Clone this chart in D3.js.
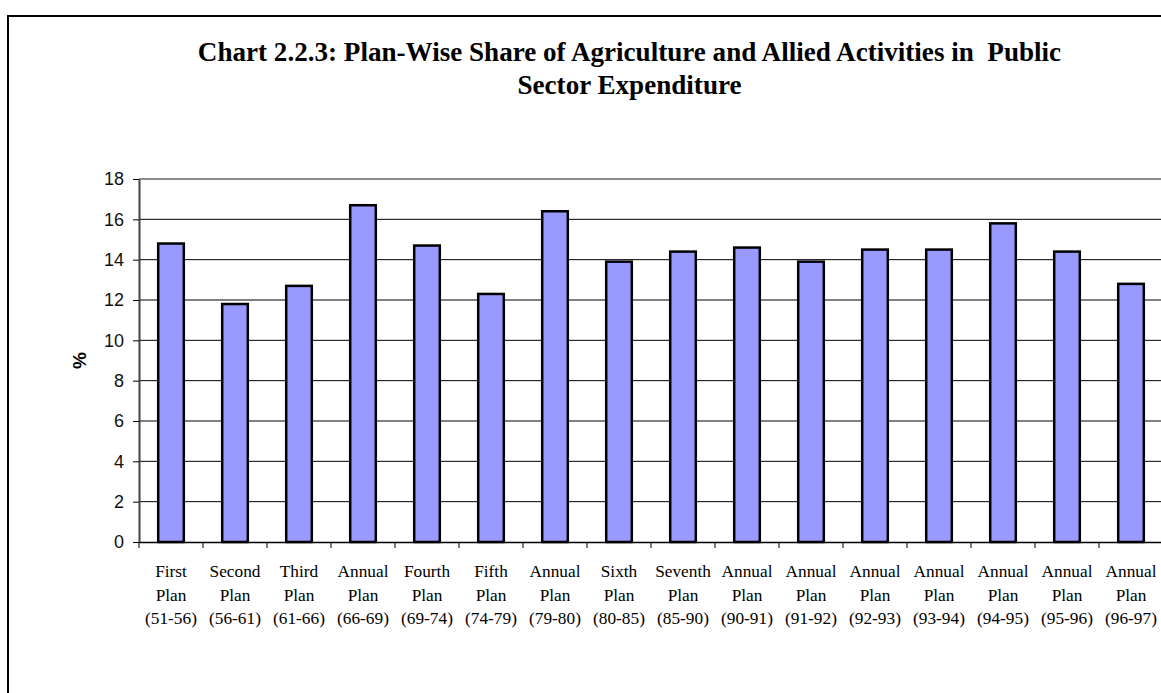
<!DOCTYPE html>
<html>
<head>
<meta charset="utf-8">
<script src="https://cdn.jsdelivr.net/npm/d3@7/dist/d3.min.js"></script>
<style>
  html, body { margin: 0; padding: 0; background: #fff; }
  svg { display: block; }
</style>
</head>
<body>
<svg id="chart" width="1161" height="693"></svg>
<script>
// Plan periods (three label lines each) and the agriculture share of public sector outlay, %
const planNames = ["First", "Second", "Third", "Annual", "Fourth", "Fifth", "Annual", "Sixth",
                   "Seventh", "Annual", "Annual", "Annual", "Annual", "Annual", "Annual", "Annual"];
const planWord = "Plan";
const planYears = ["(51-56)", "(56-61)", "(61-66)", "(66-69)", "(69-74)", "(74-79)", "(79-80)", "(80-85)",
                   "(85-90)", "(90-91)", "(91-92)", "(92-93)", "(93-94)", "(94-95)", "(95-96)", "(96-97)"];
const shareValues = [14.8, 11.8, 12.7, 16.7, 14.7, 12.3, 16.4, 13.9,
                     14.4, 14.6, 13.9, 14.5, 14.5, 15.8, 14.4, 12.8];
const yTicks = [0, 2, 4, 6, 8, 10, 12, 14, 16, 18];
const titleLines = ["Chart 2.2.3: Plan-Wise Share of Agriculture and Allied Activities in\u00A0 Public",
                    "Sector Expenditure"];
const yLabel = "%";

const categories = planYears.map((d, i) => i);

const svg = d3.select("#chart");

// outer chart frame
svg.append("rect")
  .attr("x", 8).attr("y", 16)
  .attr("width", 1200).attr("height", 720)
  .attr("fill", "#fff")
  .attr("stroke", "#000")
  .attr("stroke-width", 2);

const plotLeft = 139, plotRight = 1163, plotTop = 179, plotBottom = 542;

const xBand = d3.scaleBand().domain(categories).range([plotLeft, plotRight]).padding(0);
const xBar = d3.scaleBand().domain(categories).range([plotLeft, plotRight])
  .paddingInner(0.6).paddingOuter(0.3);
const y = d3.scaleLinear().domain([0, 18]).range([plotBottom, plotTop]);

// horizontal gridlines
svg.append("g")
  .selectAll("line")
  .data(yTicks.filter(v => v > 0 && v < 18))
  .join("line")
  .attr("x1", plotLeft).attr("x2", plotRight)
  .attr("y1", d => y(d)).attr("y2", d => y(d))
  .attr("stroke", "#000")
  .attr("stroke-width", 1);

// plot area top border
svg.append("line")
  .attr("x1", plotLeft).attr("x2", plotRight)
  .attr("y1", y(18)).attr("y2", y(18))
  .attr("stroke", "#8c8c8c")
  .attr("stroke-width", 2);

// bars
svg.append("g")
  .selectAll("rect")
  .data(shareValues)
  .join("rect")
  .attr("x", (d, i) => xBar(i))
  .attr("width", xBar.bandwidth())
  .attr("y", d => y(d))
  .attr("height", d => y(0) - y(d))
  .attr("fill", "#9999ff")
  .attr("stroke", "#000")
  .attr("stroke-width", 2.5);

// y axis
const yAxis = svg.append("g")
  .attr("transform", `translate(${plotLeft},0)`)
  .call(d3.axisLeft(y).tickValues(yTicks).tickSize(6).tickPadding(9).tickSizeOuter(0));
yAxis.select(".domain").attr("stroke", "#444").attr("stroke-width", 2);
yAxis.selectAll(".tick line").attr("stroke", "#000");
yAxis.selectAll(".tick text")
  .attr("font-family", "'Liberation Sans', Arial, sans-serif")
  .attr("font-size", 18)
  .attr("fill", "#111");

// x axis with ticks on category boundaries
const boundaries = categories.map(i => xBand(i)).concat([plotRight]);
const xAxis = svg.append("g")
  .attr("transform", `translate(0,${plotBottom})`)
  .call(d3.axisBottom(xBand).tickValues([]).tickSizeOuter(0));
xAxis.select(".domain").attr("stroke", "#000").attr("stroke-width", 1.5);
xAxis.selectAll("line.bound")
  .data(boundaries)
  .join("line")
  .attr("class", "bound")
  .attr("x1", d => d).attr("x2", d => d)
  .attr("y1", 0).attr("y2", 6)
  .attr("stroke", "#000");

// category labels, three lines each
const labels = svg.append("g")
  .attr("font-family", "'Liberation Serif', 'Times New Roman', serif")
  .attr("font-size", 17.3)
  .attr("fill", "#000")
  .attr("text-anchor", "middle");
categories.forEach(i => {
  const cx = xBand(i) + xBand.bandwidth() / 2;
  const t = labels.append("text").attr("x", cx).attr("y", 577);
  t.append("tspan").attr("x", cx).attr("dy", 0).text(planNames[i]);
  t.append("tspan").attr("x", cx).attr("dy", 24).text(planWord);
  t.append("tspan").attr("x", cx).attr("dy", 23).text(planYears[i]);
});

// y axis title
svg.append("text")
  .attr("transform", `translate(86,${(plotTop + plotBottom) / 2}) rotate(-90)`)
  .attr("text-anchor", "middle")
  .attr("font-family", "'Liberation Sans', Arial, sans-serif")
  .attr("font-weight", "bold")
  .attr("font-size", 19)
  .text(yLabel);

// chart title
const title = svg.append("text")
  .attr("text-anchor", "middle")
  .attr("font-family", "'Liberation Serif', 'Times New Roman', serif")
  .attr("font-weight", "bold")
  .attr("font-size", 27.1)
  .attr("fill", "#000");
titleLines.forEach((line, k) => {
  title.append("tspan").attr("x", 629.5).attr("y", 61 + k * 33).text(line);
});
</script>
</body>
</html>
